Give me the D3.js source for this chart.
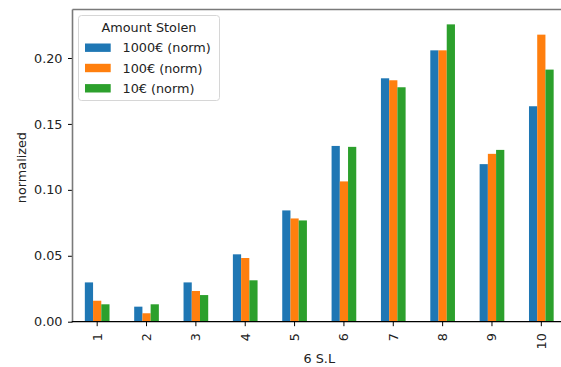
<!DOCTYPE html>
<html>
<head>
<meta charset="utf-8">
<script src="https://cdn.jsdelivr.net/npm/d3@7"></script>
<style>
  html, body { margin: 0; padding: 0; background: #fff; }
  svg { display: block; font-family: "DejaVu Sans", sans-serif; }
</style>
</head>
<body>
<svg id="chart" width="561" height="367"></svg>
<script>
// Share of cases per 6 S.L level, normalized within each amount
const categories = ["1", "2", "3", "4", "5", "6", "7", "8", "9", "10"];
const seriesNames = ["1000€ (norm)", "100€ (norm)", "10€ (norm)"];
const amount1000 = [0.0298, 0.0114, 0.0298, 0.0511, 0.0844, 0.1333, 0.1846, 0.2058, 0.1195, 0.1634];
const amount100  = [0.0159, 0.0064, 0.0233, 0.0483, 0.0783, 0.1064, 0.1831, 0.2058, 0.1273, 0.2177];
const amount10   = [0.0132, 0.0132, 0.0202, 0.0314, 0.0768, 0.1326, 0.1778, 0.2255, 0.1303, 0.1912];
const yTicks = [0.00, 0.05, 0.10, 0.15, 0.20];
const colors = ["#1f77b4", "#ff7f0e", "#2ca02c"];
const legendTitle = "Amount Stolen";
const xLabel = "6 S.L";
const yLabel = "normalized";

const series = [amount1000, amount100, amount10];

const svg = d3.select("#chart");
const fs = 12.8;
const plot = { left: 72.5, right: 566, top: 9.5, bottom: 321.7 };

const x = d3.scaleBand().domain(categories).range([plot.left, plot.right]).padding(0);
const ymax = d3.max(series.flat()) * 1.05;
const y = d3.scaleLinear().domain([0, ymax]).range([plot.bottom, plot.top]);

const groupW = x.bandwidth() * 0.5;
const barW = groupW / series.length;

// bars
series.forEach((vals, si) => {
  svg.append("g")
    .selectAll("rect")
    .data(vals)
    .join("rect")
    .attr("x", (d, i) => x(categories[i]) + x.bandwidth() / 2 - groupW / 2 + si * barW)
    .attr("y", d => y(d))
    .attr("width", barW)
    .attr("height", d => y(0) - y(d))
    .attr("fill", colors[si]);
});

// y axis
const yAxis = svg.append("g")
  .attr("transform", `translate(${plot.left},0)`)
  .call(d3.axisLeft(y).tickValues(yTicks).tickFormat(d3.format(".2f")).tickSize(4.5).tickPadding(5.5));
yAxis.select(".domain").remove();
yAxis.selectAll(".tick line").attr("stroke", "#000").attr("stroke-width", 1);
yAxis.selectAll(".tick text").attr("font-size", fs).attr("fill", "#222").attr("font-family", "DejaVu Sans");

// x axis
const xAxis = svg.append("g")
  .attr("transform", `translate(0,${plot.bottom})`)
  .call(d3.axisBottom(x).tickSize(4.5).tickPadding(4));
xAxis.select(".domain").remove();
xAxis.selectAll(".tick line").attr("stroke", "#000").attr("stroke-width", 1);
xAxis.selectAll(".tick text")
  .attr("font-size", fs).attr("fill", "#222").attr("font-family", "DejaVu Sans")
  .attr("transform", "rotate(-90)")
  .attr("x", -11.5).attr("y", 0).attr("dy", "0.35em")
  .attr("text-anchor", "end");

// spines
svg.append("line").attr("x1", plot.left).attr("x2", plot.left).attr("y1", plot.top).attr("y2", plot.bottom)
  .attr("stroke", "#7a7a7a").attr("stroke-width", 1.6);
svg.append("line").attr("x1", plot.left).attr("x2", plot.right).attr("y1", plot.top).attr("y2", plot.top)
  .attr("stroke", "#7a7a7a").attr("stroke-width", 1.6);
svg.append("line").attr("x1", plot.right).attr("x2", plot.right).attr("y1", plot.top).attr("y2", plot.bottom)
  .attr("stroke", "#7a7a7a").attr("stroke-width", 1.6);
svg.append("line").attr("x1", plot.left - 0.8).attr("x2", plot.right).attr("y1", plot.bottom).attr("y2", plot.bottom)
  .attr("stroke", "#000").attr("stroke-width", 1.2);

// axis labels
svg.append("text")
  .attr("x", (plot.left + plot.right) / 2).attr("y", 363)
  .attr("text-anchor", "middle").attr("font-size", fs).attr("fill", "#222")
  .text(xLabel);
svg.append("text")
  .attr("transform", `translate(25.5,${(plot.top + plot.bottom) / 2 + 2}) rotate(-90)`)
  .attr("text-anchor", "middle").attr("font-size", fs).attr("fill", "#222")
  .text(yLabel);

// legend
const lg = svg.append("g").attr("transform", "translate(78.5,15.5)");
lg.append("rect")
  .attr("width", 141).attr("height", 85).attr("rx", 3)
  .attr("fill", "#fff").attr("fill-opacity", 0.8)
  .attr("stroke", "#d6d6d6").attr("stroke-width", 1);
lg.append("text")
  .attr("x", 70.5).attr("y", 16.5)
  .attr("text-anchor", "middle").attr("font-size", fs).attr("fill", "#222")
  .text(legendTitle);
seriesNames.forEach((name, i) => {
  const cy = 32.2 + i * 20.3;
  lg.append("rect").attr("x", 6.5).attr("y", cy - 4.2).attr("width", 25.7).attr("height", 8.4).attr("fill", colors[i]);
  lg.append("text").attr("x", 44).attr("y", cy).attr("dy", "0.36em")
    .attr("font-size", fs).attr("fill", "#222").text(name);
});
</script>
</body>
</html>
